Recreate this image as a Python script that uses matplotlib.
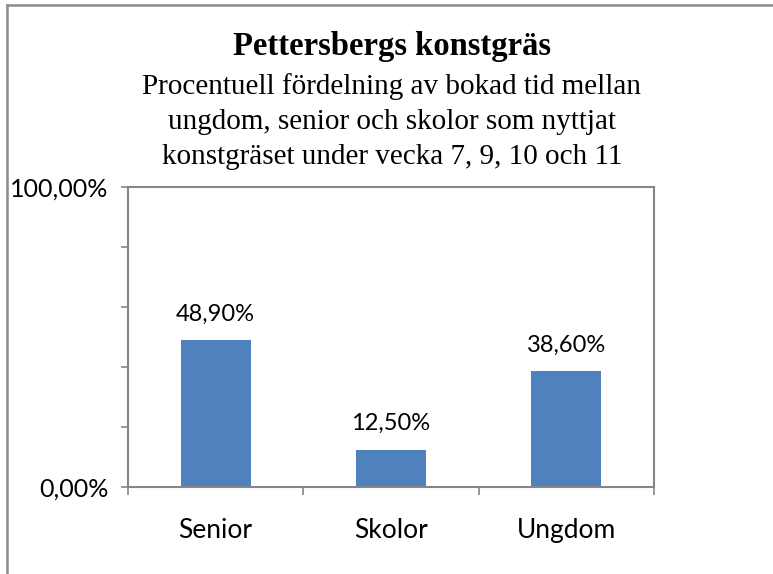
import matplotlib
matplotlib.use("Agg")
import matplotlib.pyplot as plt
from matplotlib.lines import Line2D
from matplotlib.ticker import FixedLocator, MultipleLocator

categories = ["Senior", "Skolor", "Ungdom"]
values = [48.90, 12.50, 38.60]
label_texts = ["48,90%", "12,50%", "38,60%"]
ytick_values = [0, 100]
ytick_labels = ["0,00%", "100,00%"]

title = "Pettersbergs konstgräs"
subtitle_lines = [
    "Procentuell fördelning av bokad tid mellan",
    "ungdom, senior och skolor som nyttjat",
    "konstgräset under vecka 7, 9, 10 och 11",
]

W, H = 773, 574
fig = plt.figure(figsize=(W / 100, H / 100), dpi=100)
fig.patch.set_facecolor("white")

sans = ["Lato", "DejaVu Sans"]
serif = ["Liberation Serif", "DejaVu Serif"]

ax = fig.add_axes([128 / W, 1 - 487 / H, (654 - 128) / W, (487 - 187) / H])
x = list(range(len(categories)))
bars = ax.bar(x, values, width=0.4, color="#4F81BD", zorder=2)
ax.set_xlim(-0.5, len(categories) - 0.5)
ax.set_ylim(0, 100)

for rect, txt in zip(bars, label_texts):
    ax.annotate(txt, (rect.get_x() + rect.get_width() / 2, rect.get_height()),
                xytext=(0, 11), textcoords="offset points", ha="center", va="bottom",
                fontsize=17, family=sans, color="black")

axis_color = "#868686"
for s in ["left", "bottom", "top", "right"]:
    ax.spines[s].set_color(axis_color)
    ax.spines[s].set_linewidth(1.5)

ax.set_yticks(ytick_values)
ax.set_yticklabels(ytick_labels, fontsize=18, family=sans)
ax.yaxis.set_minor_locator(MultipleLocator(20))
ax.tick_params(axis="y", which="both", direction="out", length=5, width=1.2,
               color=axis_color, pad=9)

ax.set_xticks(x)
ax.set_xticklabels(categories, fontsize=19, family=sans)
ax.tick_params(axis="x", which="major", length=0, pad=22)
ax.xaxis.set_minor_locator(FixedLocator([i - 0.5 for i in range(len(categories) + 1)]))
ax.tick_params(axis="x", which="minor", direction="out", length=6, width=1.2, color=axis_color)

fig.text(392 / W, 1 - 47 / H, title, ha="center", va="center", fontsize=23.5,
         fontweight="bold", family=serif)
for i, line in enumerate(subtitle_lines):
    fig.text(392 / W, 1 - (87 + 35 * i) / H, line, ha="center", va="center",
             fontsize=21, family=serif)

# outer chart border (left and top visible)
fig.add_artist(Line2D([7 / W, 7 / W], [0, 1 - 5 / H], transform=fig.transFigure,
                      color="#8c8c8c", linewidth=1.8))
fig.add_artist(Line2D([7 / W, 1], [1 - 5 / H, 1 - 5 / H], transform=fig.transFigure,
                      color="#8c8c8c", linewidth=1.8))

fig.savefig("out.png", dpi=100, facecolor="white")
